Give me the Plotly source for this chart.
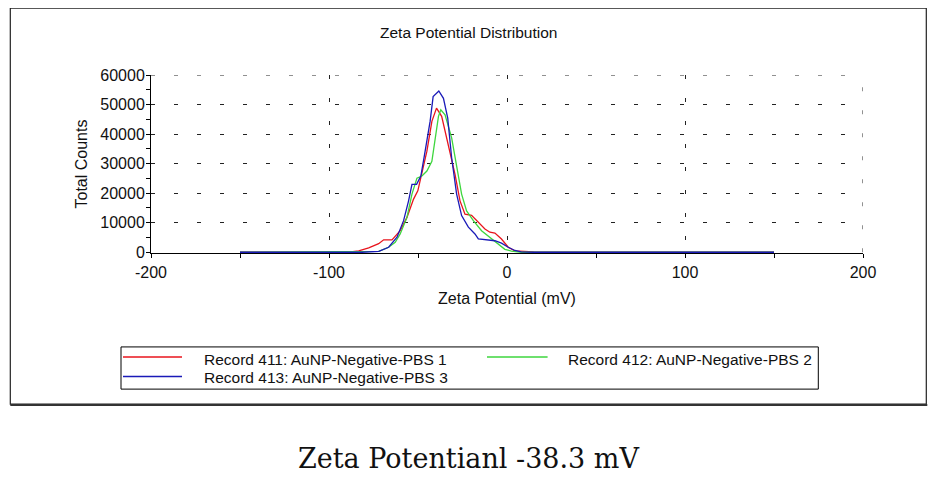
import plotly.graph_objects as go

# ---------------- data ----------------
red_x = [-150, -100, -88.9, -83.3, -77.7, -72.1, -69.3, -64.6, -60.0, -56.2, -52.5, -50.1, -47.8, -45.0,
         -42.2, -39.6, -36.7, -32.9, -29.2, -26.4, -23.6, -19.9, -16.1, -12.4, -9.6, -6.8, -3.1,
         0.7, 4.4, 10, 15, 20, 150]
red_y = [0, 0, 0, 500, 1500, 2900, 4200, 4200, 7300, 11800, 18000, 20800, 26400, 34200,
         44300, 48800, 46000, 36500, 26400, 17400, 12900, 12500, 10100, 7900, 6800, 6500, 4500,
         1700, 500, 200, 100, 0, 0]

green_x = [-150, -72.1, -66.5, -62.8, -60.0, -56.2, -53.4, -50.6, -47.8, -45.0, -42.2, -40.4, -38.5,
           -37.2, -34.8, -31.1, -28.3, -25.5, -22.7, -18.9, -14.3, -9.6, -4.9, -1.2, 2.5, 8, 150]
green_y = [0, 300, 1700, 3400, 6200, 11800, 19700, 25100, 25800, 27500, 30800, 38700, 46000,
           48200, 46500, 38700, 28600, 19700, 14000, 10700, 7300, 5100, 2900, 1000, 400, 0, 0]

blue_x = [-150, -100, -81.4, -72.0, -66.5, -61.8, -58.1, -55.3, -53.4, -50.8, -48.4, -46.3, -43.2,
          -41.5, -38.3, -35.7, -33.3, -31.1, -28.3, -25.5, -21.7, -18.0, -16.1, -6.8, -3.1,
          0.7, 4.4, 8, 15, 150]
blue_y = [0, 0, 0, 270, 1700, 5100, 10700, 17400, 23000, 23000, 25800, 33100, 44300,
          52700, 54600, 52100, 45400, 32000, 19700, 12400, 8500, 6200, 4500, 3900, 3100,
          1700, 600, 100, 0, 0]

series_names = ["Record 411: AuNP-Negative-PBS 1",
                "Record 412: AuNP-Negative-PBS 2",
                "Record 413: AuNP-Negative-PBS 3"]
series_colors = ["#e8141c", "#3ed63e", "#1a1ab8"]

x_range = [-200, 200]
y_range = [0, 60000]
x_tickvals = [-200, -100, 0, 100, 200]
y_tickvals = [0, 10000, 20000, 30000, 40000, 50000, 60000]

title_text = "Zeta Potential Distribution"
x_title = "Zeta Potential (mV)"
y_title = "Total Counts"
caption = "Zeta Potentianl -38.3 mV"

# ---------------- figure ----------------
OFF = 8                      # page body margin
W, H = 939 - OFF, 486 - OFF
L, R = 150.7, 862.7          # target pixel x of -200 and 200
T, B = 75.0, 253.5           # target pixel y of 60000 and 0
pw, ph = R - L, B - T

def px(x):
    return (x - L) / pw

def py(y):
    return (B - y) / ph

FONT = "Liberation Sans, Arial, sans-serif"
GRID_DASH = "4px,19px"
GRID_COL = "#222222"

fig = go.Figure()
for xs, ys, name, col in zip([red_x, green_x, blue_x], [red_y, green_y, blue_y],
                             series_names, series_colors):
    fig.add_trace(go.Scatter(x=xs, y=ys, mode="lines", name=name,
                             line=dict(color=col, width=1.3), showlegend=False))

shapes = []
annotations = []

# grid lines on the plot edges (plotly drops them at range ends)
shapes.append(dict(type="line", xref="x", yref="y", x0=x_range[0], x1=x_range[1],
                   y0=y_range[1], y1=y_range[1], layer="below",
                   line=dict(color=GRID_COL, width=1, dash=GRID_DASH)))
shapes.append(dict(type="line", xref="x", yref="y", x0=x_range[1], x1=x_range[1],
                   y0=y_range[0], y1=y_range[1], layer="below",
                   line=dict(color=GRID_COL, width=1, dash=GRID_DASH)))

# outer frame
shapes.append(dict(type="rect", xref="paper", yref="paper",
                   x0=px(10), x1=px(926), y0=py(405), y1=py(8),
                   line=dict(color="#222222", width=1.2), layer="below"))
shapes.append(dict(type="line", xref="paper", yref="paper",
                   x0=px(10), x1=px(927), y0=py(406), y1=py(406),
                   line=dict(color="#333333", width=2)))

# legend box
shapes.append(dict(type="rect", xref="paper", yref="paper",
                   x0=px(120.7), x1=px(818), y0=py(390), y1=py(347.7),
                   line=dict(color="black", width=1)))
leg_pos = [(122.7, 181.7, 357.7, 201.7, 360),
           (486.7, 547.3, 357.7, 566, 360),
           (122.7, 181.7, 377.3, 201.7, 378.5)]
for (lx0, lx1, ly, tx, ty), name, col in zip(leg_pos, series_names, series_colors):
    shapes.append(dict(type="line", xref="paper", yref="paper",
                       x0=px(lx0), x1=px(lx1), y0=py(ly), y1=py(ly),
                       line=dict(color=col, width=1.5)))
    annotations.append(dict(xref="paper", yref="paper", x=px(tx), y=py(ty),
                            text=name, showarrow=False, xanchor="left", yanchor="middle",
                            font=dict(family=FONT, size=15.5, color="#111111")))

# title
annotations.append(dict(xref="paper", yref="paper", x=px(468), y=py(32),
                        text=title_text, showarrow=False, xanchor="center", yanchor="middle",
                        font=dict(family=FONT, size=15.5, color="#111111")))
# caption
annotations.append(dict(xref="paper", yref="paper", x=px(468), y=py(460),
                        text=caption, showarrow=False, xanchor="center", yanchor="middle",
                        font=dict(family="DejaVu Serif, Liberation Serif, serif", size=27,
                                  color="#111111")))

fig.update_layout(
    width=W, height=H,
    margin=dict(l=L - OFF, r=W - (R - OFF), t=T - OFF, b=H - (B - OFF), pad=0),
    paper_bgcolor="white", plot_bgcolor="white",
    showlegend=False,
    shapes=shapes, annotations=annotations,
    font=dict(family=FONT, size=16, color="#111111"),
)

fig.update_xaxes(
    range=x_range, tickvals=x_tickvals, ticktext=[str(v) for v in x_tickvals],
    ticks="outside", ticklen=4, tickcolor="black", tickwidth=1,
    minor=dict(dtick=50, tick0=0, ticks="outside", ticklen=4, tickcolor="black", showgrid=False),
    showline=True, linecolor="black", linewidth=1,
    showgrid=True, gridcolor=GRID_COL, gridwidth=1, griddash=GRID_DASH,
    zeroline=False, layer="below traces",
    title=dict(text=x_title, font=dict(size=16), standoff=12),
    tickfont=dict(size=16), ticklabelstandoff=1,
)
fig.update_yaxes(
    range=[y_range[0] - 250, y_range[1]], tickvals=y_tickvals, ticktext=[str(v) for v in y_tickvals],
    ticks="outside", ticklen=4, tickcolor="black", tickwidth=1,
    minor=dict(dtick=5000, tick0=0, ticks="outside", ticklen=4, tickcolor="black", showgrid=False),
    showline=True, linecolor="black", linewidth=1,
    showgrid=True, gridcolor=GRID_COL, gridwidth=1, griddash=GRID_DASH,
    zeroline=False, layer="below traces",
    title=dict(text=y_title, font=dict(size=16), standoff=8),
    tickfont=dict(size=16), ticklabelstandoff=-2,
)

fig.write_html("out.html")
